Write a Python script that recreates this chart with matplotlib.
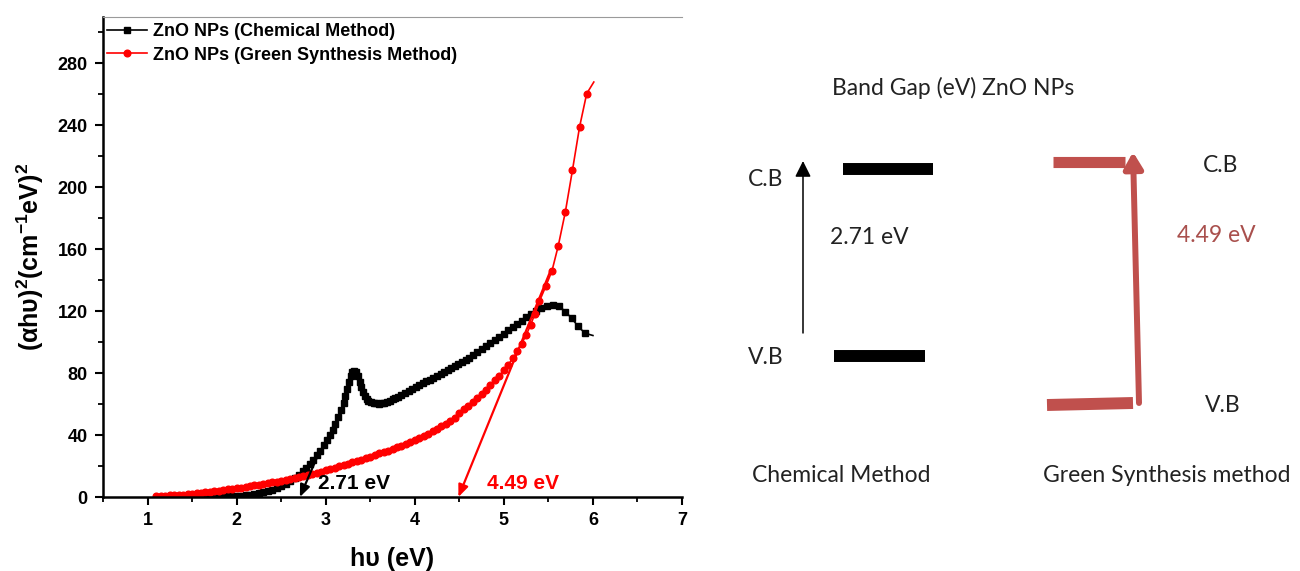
import numpy as np
import matplotlib.pyplot as plt

plt.rcParams['font.family'] = ['Liberation Sans', 'DejaVu Sans']
plt.rcParams['mathtext.fontset'] = 'custom'
plt.rcParams['mathtext.rm'] = 'Liberation Sans'
plt.rcParams['mathtext.bf'] = 'Liberation Sans:bold'
plt.rcParams['mathtext.default'] = 'bf'

# Tauc plot data
chem_E = [1.60, 1.65, 1.70, 1.75, 1.80, 1.85, 1.90, 1.95, 2.00, 2.05, 2.10, 2.15,
          2.20, 2.25, 2.30, 2.35, 2.40, 2.45, 2.50, 2.55, 2.60, 2.65, 2.70, 2.74,
          2.78, 2.82, 2.86, 2.90, 2.94, 2.98, 3.02, 3.05, 3.08, 3.11, 3.14, 3.17,
          3.20, 3.22, 3.24, 3.26, 3.28, 3.30, 3.32, 3.34, 3.36, 3.38, 3.40, 3.42,
          3.44, 3.46, 3.48, 3.51, 3.54, 3.57, 3.60, 3.63, 3.66, 3.69, 3.72, 3.75,
          3.78, 3.81, 3.85, 3.89, 3.93, 3.97, 4.01, 4.05, 4.09, 4.13, 4.17, 4.21,
          4.25, 4.29, 4.33, 4.37, 4.41, 4.45, 4.49, 4.53, 4.57, 4.61, 4.65, 4.70,
          4.75, 4.80, 4.85, 4.90, 4.95, 5.00, 5.05, 5.10, 5.15, 5.20, 5.25, 5.30,
          5.36, 5.42, 5.48, 5.55, 5.62, 5.69, 5.76, 5.83, 5.91, 6.00]
chem_y = [0.0, 0.0, 0.1, 0.1, 0.2, 0.3, 0.4, 0.5, 0.7, 0.9, 1.2, 1.6,
          2.0, 2.5, 3.0, 3.7, 4.5, 5.6, 7.0, 8.5, 10.3, 12.3, 14.5, 16.5,
          18.8, 21.3, 24.0, 27.0, 30.0, 33.3, 36.8, 39.8, 43.2, 47.0, 51.5, 56.0,
          61.0, 65.0, 69.5, 74.0, 78.0, 80.8, 81.5, 80.5, 78.0, 74.5, 71.0, 68.0,
          65.5, 63.5, 62.2, 61.3, 60.7, 60.4, 60.3, 60.5, 60.9, 61.5, 62.2, 63.0,
          63.9, 64.8, 66.0, 67.2, 68.5, 69.7, 71.0, 72.2, 73.4, 74.6, 75.8, 77.0,
          78.2, 79.4, 80.6, 81.8, 83.0, 84.3, 85.6, 87.0, 88.4, 89.8, 91.5, 93.5,
          95.5, 97.5, 99.5, 101.5, 103.5, 105.5, 107.6, 109.7, 111.8, 113.9, 116.0, 118.0,
          120.2, 122.0, 123.5, 124.2, 123.2, 119.8, 115.5, 110.5, 105.8, 104.3]

green_E = [1.10, 1.15, 1.20, 1.25, 1.30, 1.35, 1.40, 1.45, 1.50, 1.55, 1.60, 1.65,
           1.70, 1.75, 1.80, 1.85, 1.90, 1.95, 2.00, 2.05, 2.10, 2.15, 2.20, 2.25,
           2.30, 2.35, 2.40, 2.45, 2.50, 2.55, 2.60, 2.65, 2.70, 2.75, 2.80, 2.85,
           2.90, 2.95, 3.00, 3.05, 3.10, 3.15, 3.20, 3.25, 3.30, 3.35, 3.40, 3.45,
           3.50, 3.55, 3.60, 3.65, 3.70, 3.75, 3.80, 3.85, 3.90, 3.95, 4.00, 4.05,
           4.10, 4.15, 4.20, 4.25, 4.30, 4.35, 4.40, 4.45, 4.50, 4.55, 4.60, 4.65,
           4.70, 4.75, 4.80, 4.85, 4.90, 4.95, 5.00, 5.05, 5.10, 5.15, 5.20, 5.25,
           5.30, 5.35, 5.40, 5.47, 5.54, 5.61, 5.69, 5.77, 5.85, 5.93, 6.01]
green_y = [0.7, 0.8, 0.9, 1.0, 1.2, 1.4, 1.6, 1.9, 2.2, 2.5, 2.8, 3.1,
           3.4, 3.8, 4.1, 4.5, 4.9, 5.3, 5.7, 6.1, 6.6, 7.0, 7.5, 8.0,
           8.5, 9.0, 9.5, 10.0, 10.6, 11.1, 11.7, 12.3, 12.9, 13.5, 14.2, 14.9,
           15.6, 16.4, 17.2, 18.0, 18.8, 19.7, 20.6, 21.5, 22.4, 23.3, 24.2, 25.1,
           26.1, 27.1, 28.1, 29.1, 30.0, 31.0, 32.0, 33.0, 34.1, 35.3, 36.5, 38.0,
           39.5, 41.0, 42.5, 44.0, 45.6, 47.3, 49.0, 51.2, 54.0, 56.6, 59.0, 61.5,
           64.0, 66.6, 69.4, 72.3, 75.3, 78.4, 81.8, 85.5, 89.5, 94.0, 99.0, 104.5,
           111.0, 118.5, 126.5, 136.0, 146.0, 162.0, 184.0, 211.0, 239.0, 260.5, 268.0]

# tangent (extrapolation) lines: (start, end at the gap value)
chem_fit_E = [2.92, 2.71]
chem_fit_y = [28, 0]
green_fit_E = [5.53, 4.49]
green_fit_y = [147, 0]

methods = ['Chemical Method', 'Green Synthesis method']
gaps = [2.71, 4.49]
series_labels = ['ZnO NPs (Chemical Method)', 'ZnO NPs (Green Synthesis Method)']

fig = plt.figure(figsize=(13, 5.71), dpi=100)
ax = fig.add_axes([103 / 1300, 74 / 571, 579 / 1300, 480 / 571])

ax.plot(chem_E, chem_y, color='black', lw=1.2, marker='s', ms=4.0,
        markevery=slice(0, len(chem_E) - 1), label=series_labels[0])
ax.plot(green_E, green_y, color='red', lw=1.2, marker='o', ms=4.8,
        markevery=slice(0, len(green_E) - 1), label=series_labels[1])

ax.annotate('', xy=(chem_fit_E[1], chem_fit_y[1]), xytext=(chem_fit_E[0], chem_fit_y[0]),
            arrowprops=dict(arrowstyle='-|>,head_length=0.6,head_width=0.25',
                            color='black', lw=1.6, mutation_scale=12,
                            shrinkA=0, shrinkB=0))
ax.annotate('', xy=(green_fit_E[1], green_fit_y[1]), xytext=(green_fit_E[0], green_fit_y[0]),
            arrowprops=dict(arrowstyle='-|>,head_length=0.6,head_width=0.25',
                            color='red', lw=1.6, mutation_scale=12,
                            shrinkA=0, shrinkB=0))
ax.text(2.91, 9, f'{gaps[0]} eV', fontsize=15, fontweight='bold', color='black',
        ha='left', va='center')
ax.text(4.81, 9, f'{gaps[1]} eV', fontsize=15, fontweight='bold', color='red',
        ha='left', va='center')

ax.set_xlim(0.5, 7)
ax.set_ylim(0, 310)
ax.set_xticks(range(1, 8))
ax.set_xticks(np.arange(0.5, 7.01, 0.5), minor=True)
ax.set_yticks(range(0, 281, 40))
ax.set_yticks(range(0, 311, 20), minor=True)
ax.tick_params(which='major', direction='out', length=6, width=1.5, labelsize=13, pad=5)
ax.tick_params(which='minor', direction='out', length=3.5, width=1.3)
for lbl in ax.get_xticklabels() + ax.get_yticklabels():
    lbl.set_fontweight('bold')
ax.spines['left'].set_linewidth(1.8)
ax.spines['bottom'].set_linewidth(1.8)
ax.spines['top'].set_linewidth(0.8)
ax.spines['top'].set_color('#9a9a9a')
ax.spines['right'].set_visible(False)

ax.set_xlabel('hυ (eV)', fontsize=18, fontweight='bold', labelpad=13)
ax.set_ylabel('(αhυ)$^{2}$(cm$^{-1}$eV)$^{2}$', fontsize=18, fontweight='bold', labelpad=8)

ax.legend(loc='upper left', bbox_to_anchor=(-0.004, 1), frameon=False,
          prop=dict(weight='bold', size=13), handlelength=2.2, handletextpad=0.35,
          labelspacing=0.35, borderaxespad=0.1, borderpad=0.25)

# band gap diagram on the right, drawn in figure pixel units
ax2 = fig.add_axes([0, 0, 1, 1])
ax2.set_xlim(0, 1300)
ax2.set_ylim(571, 0)
ax2.axis('off')

dfont = dict(family=['Lato', 'DejaVu Sans'], fontsize=16.5)
bar_red = '#C0504D'

ax2.text(832, 88, 'Band Gap (eV) ZnO NPs', ha='left', va='center', color='#222222', **dfont)

# chemical method
ax2.plot([843, 933], [169, 169], color='black', lw=8.6, solid_capstyle='butt')
ax2.plot([834, 925], [356, 356], color='black', lw=8.6, solid_capstyle='butt')
ax2.annotate('', xy=(803, 161), xytext=(803, 333),
             arrowprops=dict(arrowstyle='-|>,head_length=0.6,head_width=0.3',
                             color='black', lw=1.1, mutation_scale=16,
                             shrinkA=0, shrinkB=0))
ax2.text(748, 180, 'C.B', ha='left', va='center', color='#222222', **dfont)
ax2.text(748, 358, 'V.B', ha='left', va='center', color='#222222', **dfont)
ax2.text(830, 237, f'{gaps[0]} eV', ha='left', va='center', color='#222222', **dfont)
ax2.text(752, 476, methods[0], ha='left', va='center', color='#222222', **dfont)

# green synthesis method
ax2.plot([1053, 1125], [162, 162], color=bar_red, lw=8, solid_capstyle='butt')
ax2.plot([1047, 1133], [405, 403], color=bar_red, lw=8.6, solid_capstyle='butt')
ax2.annotate('', xy=(1133, 152), xytext=(1139, 403),
             arrowprops=dict(arrowstyle='-|>,head_length=0.6,head_width=0.35',
                             color=bar_red, lw=4.3, mutation_scale=16,
                             shrinkA=0, shrinkB=0))
ax2.text(1203, 165, 'C.B', ha='left', va='center', color='#222222', **dfont)
ax2.text(1205, 405, 'V.B', ha='left', va='center', color='#222222', **dfont)
ax2.text(1177, 235, f'{gaps[1]} eV', ha='left', va='center', color='#A9504D', **dfont)
ax2.text(1043, 476, methods[1], ha='left', va='center', color='#222222', **dfont)

fig.savefig('out.png', dpi=100)
